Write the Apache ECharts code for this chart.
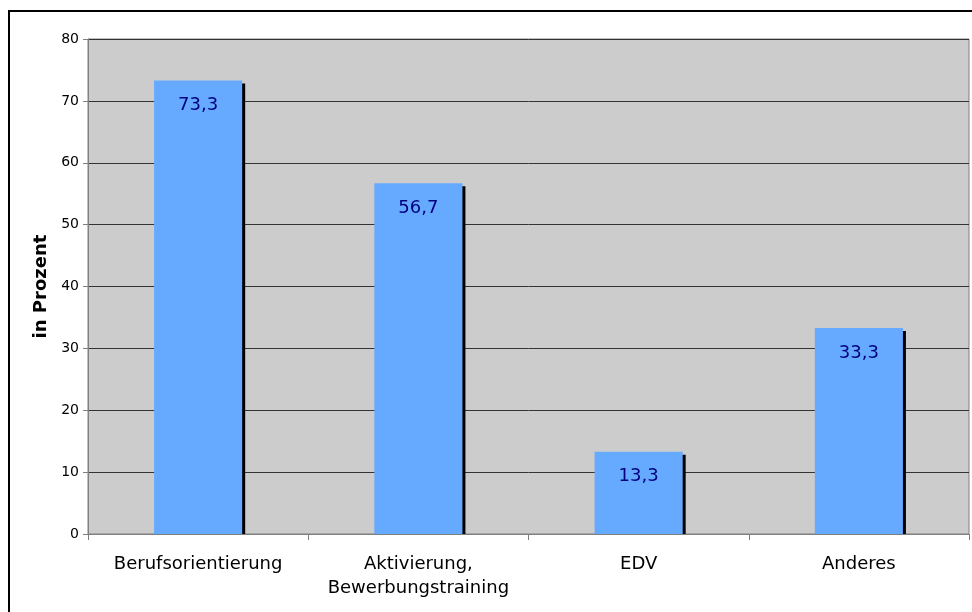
<!DOCTYPE html>
<html>
<head>
<meta charset="utf-8">
<script src="https://cdn.jsdelivr.net/npm/echarts@6/dist/echarts.min.js"></script>
<style>html,body{margin:0;padding:0;background:#fff}#c{width:972px;height:612px}</style>
</head>
<body>
<div id="c"></div>
<script>
const categories = ['Berufsorientierung', 'Aktivierung,\nBewerbungstraining', 'EDV', 'Anderes'];
const values = [73.3, 56.7, 13.3, 33.3];
const yTicks = { min: 0, max: 80, interval: 10 };
const yName = 'in Prozent';

const FONT = 'Verdana, "DejaVu Sans", sans-serif';
const BAR_RATIO = 0.4;
const chart = echarts.init(document.getElementById('c'), null, { renderer: 'canvas' });
chart.setOption({
  animation: false,
  backgroundColor: '#ffffff',
  graphic: [{
    type: 'rect', z: 100, silent: true,
    shape: { x: 9, y: 11, width: 1200, height: 1200 },
    style: { fill: 'none', stroke: '#000', lineWidth: 2 }
  }],
  grid: {
    left: 88, top: 39, right: 3, bottom: 78,
    show: true, backgroundColor: '#CCCCCC', borderColor: '#808080', borderWidth: 1
  },
  xAxis: {
    type: 'category',
    data: categories,
    axisLine: { show: true, lineStyle: { color: '#808080', width: 1 } },
    axisTick: { show: true, length: 6, alignWithLabel: false, lineStyle: { color: '#808080' } },
    axisLabel: { fontFamily: FONT, fontSize: 18, color: '#000', margin: 18, lineHeight: 24, interval: 0 },
    splitLine: { show: false }
  },
  yAxis: {
    type: 'value',
    min: yTicks.min, max: yTicks.max, interval: yTicks.interval,
    name: yName,
    nameLocation: 'middle',
    nameGap: 36,
    nameRotate: 90,
    nameTextStyle: { fontFamily: FONT, fontSize: 18, fontWeight: 'bold', color: '#000' },
    axisLine: { show: true, lineStyle: { color: '#808080', width: 1 } },
    axisTick: { show: true, length: 5, lineStyle: { color: '#808080' } },
    axisLabel: { fontFamily: FONT, fontSize: 14, color: '#000', margin: 9 },
    splitLine: { show: true, lineStyle: { color: '#333', width: 1 } }
  },
  series: [{
    type: 'custom',
    z: 1,
    silent: true,
    data: values.map((v, i) => [i, v]),
    renderItem: function (params, api) {
      const top = api.coord([api.value(0), api.value(1)]);
      const base = api.coord([api.value(0), 0]);
      const w = api.size([1, 0])[0] * BAR_RATIO;
      const y = top[1] + 3;
      return {
        type: 'rect',
        shape: { x: top[0] - w / 2 + 3, y: y, width: w, height: base[1] - y },
        style: { fill: '#000' }
      };
    }
  }, {
    type: 'bar',
    z: 2,
    data: values,
    barWidth: (BAR_RATIO * 100) + '%',
    itemStyle: { color: '#66AAFF' },
    label: {
      show: true,
      position: 'insideTop',
      distance: 16,
      fontFamily: FONT,
      fontSize: 18,
      color: '#000080',
      formatter: p => String(p.value).replace('.', ',')
    }
  }]
});
</script>
</body>
</html>
